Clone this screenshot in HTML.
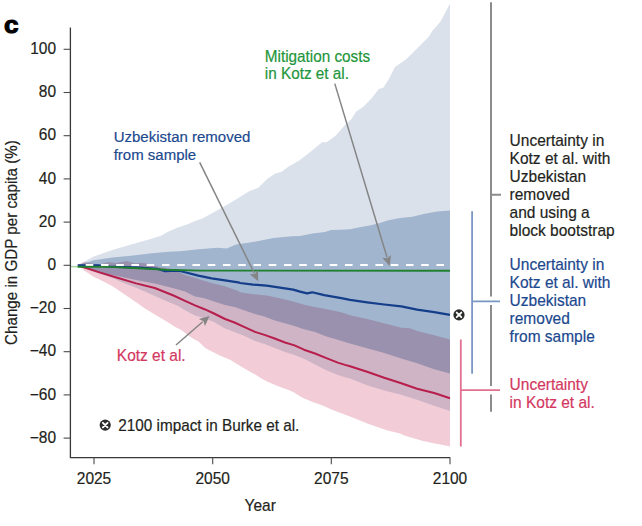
<!DOCTYPE html>
<html><head><meta charset="utf-8"><style>
html,body{margin:0;padding:0;background:#fff;width:642px;height:526px;overflow:hidden}
</style></head><body>
<svg width="642" height="526" viewBox="0 0 642 526" style="display:block">
<rect width="642" height="526" fill="#ffffff"/>
<g style="isolation:isolate">
<polygon points="77.7,265.2 93.7,256.6 112.4,250.0 131.1,244.4 149.8,239.2 161.0,235.8 168.5,231.5 177.8,227.6 187.1,224.6 195.0,221.0 202.4,218.6 214.7,211.7 227.1,204.8 240.0,197.0 249.1,191.3 258.3,187.8 267.4,178.7 275.4,173.5 281.1,171.9 289.1,166.2 299.3,160.5 308.4,153.6 322.1,142.2 326.7,142.2 335.8,135.4 345.0,125.1 351.4,119.0 356.0,111.8 362.8,107.2 371.9,98.1 378.8,89.0 383.3,87.8 389.0,78.7 394.8,67.3 399.3,63.9 406.2,59.3 417.6,47.9 429.0,36.5 432.4,30.8 440.4,21.7 449.5,4.6 450.0,4.0 450.0,410.9 434.2,405.8 417.1,399.8 401.3,394.7 384.2,390.4 367.1,385.3 350.0,378.5 345.0,377.3 337.8,375.0 326.4,370.2 315.0,364.5 304.0,358.7 294.5,354.9 285.0,352.0 274.0,347.7 264.5,343.9 255.0,341.0 244.0,335.8 234.5,332.0 225.0,328.5 214.0,322.0 204.5,318.2 195.0,315.4 185.0,310.2 178.2,305.9 164.9,300.6 151.6,294.6 135.0,287.3 122.5,282.6 113.0,278.3 103.5,275.0 90.0,270.5 77.7,265.2" fill="#dae1eb"/>
<polygon points="77.7,265.2 93.7,260.3 112.4,257.5 131.1,255.8 149.8,253.4 168.5,251.8 180.0,251.2 198.7,249.3 217.4,247.8 226.7,248.4 236.0,244.6 254.8,241.8 273.5,238.1 292.0,236.2 300.0,236.0 312.5,233.6 325.0,232.1 331.0,229.9 341.0,229.7 350.0,229.3 362.3,226.8 369.8,225.5 380.0,223.0 387.5,220.5 400.0,218.1 412.4,216.8 424.8,213.7 437.3,211.4 450.0,210.4 450.0,373.6 434.2,369.2 417.1,363.3 401.3,358.5 384.2,353.0 367.1,348.3 350.0,343.6 345.0,342.1 337.8,339.8 326.4,336.4 315.0,332.1 304.0,329.2 294.5,325.9 285.0,323.2 274.0,320.2 264.5,316.4 255.0,314.0 244.0,310.2 234.5,306.9 225.0,305.0 214.0,301.6 204.5,298.3 195.0,296.4 185.0,291.6 173.5,288.3 154.8,283.5 136.1,280.0 117.4,276.0 98.7,272.5 77.7,265.2" fill="#bdcde0" style="mix-blend-mode:multiply"/>
<polygon points="77.7,265.2 84.0,262.0 92.0,263.5 100.0,264.5 108.0,261.9 116.0,263.0 126.7,261.0 135.0,263.5 141.7,262.8 150.0,264.3 160.0,267.3 170.0,268.5 185.0,275.0 198.3,279.0 211.6,283.0 224.9,286.3 238.2,290.9 240.0,292.3 253.3,294.3 266.6,295.6 279.9,298.3 293.2,301.6 300.0,303.6 307.1,305.4 324.2,308.8 341.3,312.2 350.0,315.2 367.1,319.1 384.2,323.3 401.3,327.8 410.0,328.3 417.1,331.0 434.2,335.3 450.0,339.6 450.0,446.4 441.7,444.8 432.4,442.9 423.0,441.0 413.7,438.2 404.3,435.4 400.0,433.5 386.7,430.2 377.4,427.0 368.0,423.7 358.7,420.0 349.3,416.2 340.0,412.8 331.4,409.4 322.1,405.2 312.7,402.0 302.4,397.8 294.0,392.6 289.3,390.3 280.0,387.0 272.8,384.0 267.1,381.4 261.4,378.5 255.7,374.8 250.0,371.7 235.6,363.3 231.0,360.3 220.4,355.7 212.8,351.9 205.2,348.1 198.5,341.5 192.8,338.4 187.1,334.4 181.4,330.1 175.7,327.3 170.0,323.6 154.8,314.5 145.0,308.5 135.0,301.6 122.5,293.0 113.0,286.4 103.5,281.6 94.0,276.9 84.5,270.7 77.7,265.2" fill="#f2ccd7" style="mix-blend-mode:multiply"/>
</g>
<path d="M77.7,265.3 L98.7,272.1 L117.4,277.8 L136.1,283.4 L154.8,288.0 L173.5,295.5 L185.0,300.9 L195.0,305.4 L204.5,309.2 L214.0,313.5 L225.0,319.0 L234.5,322.5 L244.0,326.8 L255.0,331.9 L264.5,334.9 L274.0,338.2 L285.0,342.5 L294.5,345.4 L304.0,349.7 L315.0,353.5 L326.4,358.1 L337.8,362.6 L345.0,364.9 L350.0,366.3 L367.1,371.8 L384.2,377.8 L401.3,383.2 L417.1,388.7 L434.2,393.0 L450.0,398.3" fill="none" stroke="#b81e4c" stroke-width="2.0" stroke-linejoin="round"/>
<path d="M77.7,265.3 L98.0,265.4 L110.0,266.6 L140.0,267.6 L157.0,268.8 L165.0,271.2 L176.0,270.6 L181.0,271.2 L185.0,272.3 L198.3,275.6 L211.6,278.3 L224.9,280.3 L238.2,282.3 L240.0,283.0 L253.3,284.6 L266.6,285.6 L279.9,287.6 L293.2,289.6 L300.0,291.6 L307.1,293.4 L312.2,292.3 L324.2,295.1 L341.3,298.2 L350.0,299.9 L367.1,302.3 L384.2,304.5 L401.3,306.4 L417.1,309.7 L434.2,312.2 L450.0,314.8" fill="none" stroke="#143d8a" stroke-width="2.2" stroke-linejoin="round"/>
<path d="M77.7,265 L450,265" stroke="#ffffff" stroke-width="2" stroke-dasharray="7.6 7.65" stroke-dashoffset="-8"/>
<path d="M71,266.6 L78,266.8" stroke="#a8d5a8" stroke-width="1.5"/>
<path d="M77.7,266.8 L110.0,266.9 L138.0,268.3 L166.0,269.7 L200.0,270.6 L450.0,270.7" fill="none" stroke="#1f8030" stroke-width="1.9" stroke-linejoin="round"/>
<line x1="334.8" y1="83.6" x2="387.01" y2="257.28" stroke="#858585" stroke-width="1.5"/><polygon points="389.6,265.9 382.32,257.65 387.30,258.24 391.13,255.00" fill="#858585"/>
<line x1="199.7" y1="162.4" x2="254.32" y2="273.23" stroke="#858585" stroke-width="1.5"/><polygon points="258.3,281.3 249.75,274.36 254.76,274.12 258.01,270.30" fill="#858585"/>
<line x1="176" y1="345" x2="202.71" y2="321.80" stroke="#858585" stroke-width="1.5"/><polygon points="209.5,315.9 204.97,325.93 203.46,321.15 198.93,318.99" fill="#858585"/>
<g fill="none">
<path d="M70.4,27.6 L70.4,457.7 L450,457.7" stroke="#383838" stroke-width="1.3"/>
<g stroke="#4a4a4a" stroke-width="1.1"><line x1="63.6" y1="49.3" x2="70.3" y2="49.3"/><line x1="63.6" y1="92.5" x2="70.3" y2="92.5"/><line x1="63.6" y1="135.7" x2="70.3" y2="135.7"/><line x1="63.6" y1="178.9" x2="70.3" y2="178.9"/><line x1="63.6" y1="222.1" x2="70.3" y2="222.1"/><line x1="63.6" y1="265.3" x2="70.3" y2="265.3"/><line x1="63.6" y1="308.5" x2="70.3" y2="308.5"/><line x1="63.6" y1="351.7" x2="70.3" y2="351.7"/><line x1="63.6" y1="394.9" x2="70.3" y2="394.9"/><line x1="63.6" y1="438.1" x2="70.3" y2="438.1"/><line x1="94.0" y1="457.3" x2="94.0" y2="464.3"/><line x1="212.7" y1="457.3" x2="212.7" y2="464.3"/><line x1="331.3" y1="457.3" x2="331.3" y2="464.3"/><line x1="450.0" y1="457.3" x2="450.0" y2="464.3"/></g>
</g>
<g font-family="Liberation Sans, sans-serif" stroke-width="0.18">
<text transform="translate(56.00,53.90) scale(1,1.03)" font-size="15.5" fill="#231f20" stroke="#231f20" text-anchor="end">100</text><text transform="translate(56.00,97.10) scale(1,1.03)" font-size="15.5" fill="#231f20" stroke="#231f20" text-anchor="end">80</text><text transform="translate(56.00,140.30) scale(1,1.03)" font-size="15.5" fill="#231f20" stroke="#231f20" text-anchor="end">60</text><text transform="translate(56.00,183.50) scale(1,1.03)" font-size="15.5" fill="#231f20" stroke="#231f20" text-anchor="end">40</text><text transform="translate(56.00,226.70) scale(1,1.03)" font-size="15.5" fill="#231f20" stroke="#231f20" text-anchor="end">20</text><text transform="translate(56.00,269.90) scale(1,1.03)" font-size="15.5" fill="#231f20" stroke="#231f20" text-anchor="end">0</text><text transform="translate(56.00,313.10) scale(1,1.03)" font-size="15.5" fill="#231f20" stroke="#231f20" text-anchor="end">−20</text><text transform="translate(56.00,356.30) scale(1,1.03)" font-size="15.5" fill="#231f20" stroke="#231f20" text-anchor="end">−40</text><text transform="translate(56.00,399.50) scale(1,1.03)" font-size="15.5" fill="#231f20" stroke="#231f20" text-anchor="end">−60</text><text transform="translate(56.00,442.70) scale(1,1.03)" font-size="15.5" fill="#231f20" stroke="#231f20" text-anchor="end">−80</text><text transform="translate(94.00,484.30) scale(1,1.03)" font-size="15.5" fill="#231f20" stroke="#231f20" text-anchor="middle">2025</text><text transform="translate(212.67,484.30) scale(1,1.03)" font-size="15.5" fill="#231f20" stroke="#231f20" text-anchor="middle">2050</text><text transform="translate(331.33,484.30) scale(1,1.03)" font-size="15.5" fill="#231f20" stroke="#231f20" text-anchor="middle">2075</text><text transform="translate(450.00,484.30) scale(1,1.03)" font-size="15.5" fill="#231f20" stroke="#231f20" text-anchor="middle">2100</text><text transform="translate(260.20,510.60) scale(1,1.03)" font-size="15.5" fill="#231f20" stroke="#231f20" text-anchor="middle">Year</text><text transform="translate(16.9,140.2) rotate(-90) scale(1,1.03)" text-anchor="end" font-size="15.2" fill="#231f20" stroke="#231f20">Change in GDP per capita (%)</text><text transform="translate(118.30,431.10) scale(1,1.03)" font-size="15.3" fill="#231f20" stroke="#231f20">2100 impact in Burke et al.</text><text transform="translate(113.70,141.90) scale(1,1.03)" font-size="15" fill="#1b488e" stroke="#1b488e">Uzbekistan removed</text><text transform="translate(113.70,159.90) scale(1,1.03)" font-size="15" fill="#1b488e" stroke="#1b488e">from sample</text><text transform="translate(264.80,62.00) scale(1,1.03)" font-size="15.3" fill="#22963a" stroke="#22963a">Mitigation costs</text><text transform="translate(264.80,78.60) scale(1,1.03)" font-size="15.3" fill="#22963a" stroke="#22963a">in Kotz et al.</text><text transform="translate(116.80,360.80) scale(1,1.03)" font-size="15.5" fill="#d3385f" stroke="#d3385f">Kotz et al.</text><text transform="translate(509.60,145.50) scale(1,1.03)" font-size="15.5" fill="#231f20" stroke="#231f20">Uncertainty in</text><text transform="translate(509.60,163.60) scale(1,1.03)" font-size="15.5" fill="#231f20" stroke="#231f20">Kotz et al. with</text><text transform="translate(509.60,181.70) scale(1,1.03)" font-size="15.5" fill="#231f20" stroke="#231f20">Uzbekistan</text><text transform="translate(509.60,199.80) scale(1,1.03)" font-size="15.5" fill="#231f20" stroke="#231f20">removed</text><text transform="translate(509.60,217.90) scale(1,1.03)" font-size="15.5" fill="#231f20" stroke="#231f20">and using a</text><text transform="translate(509.60,236.00) scale(1,1.03)" font-size="15.5" fill="#231f20" stroke="#231f20">block bootstrap</text><text transform="translate(509.60,269.60) scale(1,1.03)" font-size="15.5" fill="#1b488e" stroke="#1b488e">Uncertainty in</text><text transform="translate(509.60,287.70) scale(1,1.03)" font-size="15.5" fill="#1b488e" stroke="#1b488e">Kotz et al. with</text><text transform="translate(509.60,305.80) scale(1,1.03)" font-size="15.5" fill="#1b488e" stroke="#1b488e">Uzbekistan</text><text transform="translate(509.60,323.90) scale(1,1.03)" font-size="15.5" fill="#1b488e" stroke="#1b488e">removed</text><text transform="translate(509.60,342.00) scale(1,1.03)" font-size="15.5" fill="#1b488e" stroke="#1b488e">from sample</text><text transform="translate(509.60,389.90) scale(1,1.03)" font-size="15.5" fill="#d3385f" stroke="#d3385f">Uncertainty</text><text transform="translate(509.60,407.80) scale(1,1.03)" font-size="15.5" fill="#d3385f" stroke="#d3385f">in Kotz et al.</text>
</g>
<text transform="translate(4.1,33.0) scale(1.14,1)" font-family="Liberation Sans, sans-serif" font-weight="bold" font-size="23" fill="#000" stroke="#000" stroke-width="1">c</text>
<circle cx="105.2" cy="425.1" r="5.6" fill="#2b2d2b"/><path d="M102.9,422.8 L107.5,427.40000000000003 M107.5,422.8 L102.9,427.40000000000003" stroke="#ffffff" stroke-width="1.9" stroke-linecap="round"/>
<circle cx="459" cy="314.9" r="5.6" fill="#2b2d2b"/><path d="M456.7,312.59999999999997 L461.3,317.2 M461.3,312.59999999999997 L456.7,317.2" stroke="#ffffff" stroke-width="1.9" stroke-linecap="round"/>

<g fill="none" stroke-width="2">
<path d="M491,2.3 L491,296.6 M491,305 L491,386 M491,394.6 L491,411.7 M491,194.8 L501,194.8" stroke="#8c8c8c"/>
<path d="M472.1,211.2 L472.1,373.8 M472.1,301.4 L500,301.4" stroke="#7897c2" stroke-width="1.8"/>
<path d="M460.8,339.6 L460.8,446.4 M460.8,390.2 L500,390.2" stroke="#e2708f" stroke-width="1.8"/>
</g>
</svg>
</body></html>
